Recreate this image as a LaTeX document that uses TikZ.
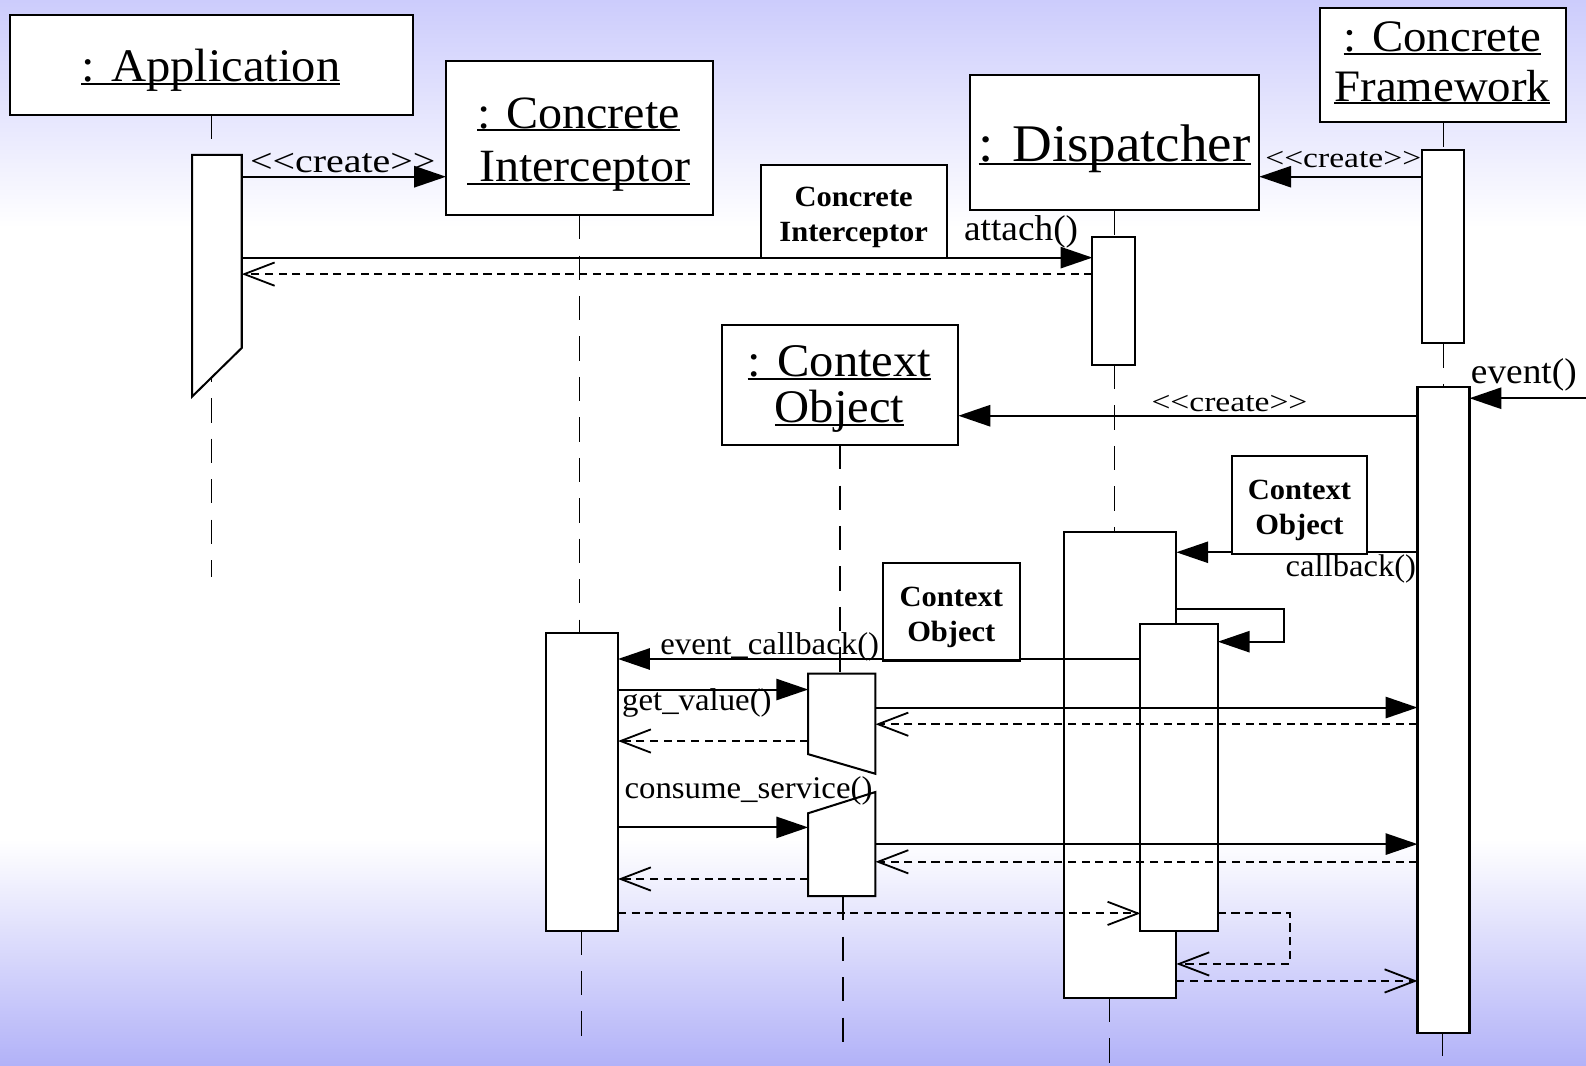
\documentclass[tikz,border=0pt]{standalone}
\usepackage{fontspec}
\setmainfont{Liberation Serif}[FakeStretch=1.04]
\usetikzlibrary{arrows.meta}

\definecolor{bgtop}{RGB}{204,204,252}
\definecolor{bgbot}{RGB}{178,178,248}

% underline drawn close to the baseline, across the descenders
\newcommand\ulin[1]{\setbox0\hbox{#1}\rlap{\rule[-0.07em]{\wd0}{0.042em}}\box0}
% stereotype brackets kept as two separate angle characters, set a little wide
\newcommand\crt{\scalebox{1.14}[1]{\textless\kern0pt\textless create\textgreater\kern0pt\textgreater}}

\tikzset{
  box/.style={draw, fill=white, line width=2pt, inner sep=0pt, outer sep=0pt, anchor=north west},
  ghost/.style={inner sep=0pt, outer sep=0pt, anchor=north west},
  lifeline/.style={line width=1.2pt, dash pattern=on 24pt off 16pt},
  solidlife/.style={line width=1.2pt},
  objtxt/.style={anchor=base, inner sep=0pt},
  lbl/.style={anchor=base, inner sep=0pt},
  boldlbl/.style={anchor=base, inner sep=0pt, font=\bfseries\fontsize{29}{32}\selectfont},
  msg/.style={line width=2pt, -{Triangle[length=31.5pt,width=21pt]}},
  ret/.style={line width=1.8pt, dash pattern=on 8pt off 5.5pt, -{Straight Barb[length=30pt,width=23pt]}},
}

\begin{document}
\begin{tikzpicture}[x=1pt,y=-1pt]
\useasboundingbox (0,0) rectangle (1568,1053);

% background
\fill[white] (0,0) rectangle (1568,1053);
\shade[top color=bgtop, bottom color=white] (0,0) rectangle (1568,225);
\shade[top color=white, bottom color=bgbot] (0,830) rectangle (1568,1053);

% object boxes
\node[box, minimum width=398.5pt, minimum height=98.9pt] (appbox) at (10,14.8) {};
\node[box, minimum width=263.5pt, minimum height=152.3pt] (cibox) at (441,60.3) {};
\node[box, minimum width=286pt, minimum height=134pt] (dispbox) at (959,74) {};
\node[box, minimum width=243pt, minimum height=112.8pt] (cfbox) at (1305,8.2) {};
\node[box, minimum width=233.5pt, minimum height=118.7pt] (ctxbox) at (714,321.3) {};

% lifeline end points
\coordinate (append) at (209,570);
\coordinate (citop) at (572.6,626);
\coordinate (cibot) at (575,920);
\coordinate (ciend) at (575,1030);
\coordinate (dispmid) at (1101.5,360.8);
\coordinate (disptop2) at (1101.5,526);
\coordinate (dispbot) at (1097,986.6);
\coordinate (dispend) at (1097,1053);
\coordinate (cfmid) at (1427,339.5);
\coordinate (cfmid2) at (1427,383);
\coordinate (cfbot) at (1426.4,1021);
\coordinate (cfend) at (1426.4,1044);
\coordinate (ctxtop) at (830.5,666);
\coordinate (ctxbot) at (833.5,886);
\coordinate (ctxend) at (833.5,1040);

% lifelines
\draw[lifeline] (appbox.south -| append) -- (append);
\draw[lifeline] (cibox.south -| citop) -- (citop);
\draw[lifeline] (cibot) -- (ciend);
\draw[lifeline] (dispbox.south -| dispmid) -- (dispmid |- 0,236);
\draw[lifeline] (dispmid) -- (disptop2);
\draw[lifeline] (dispbot) -- (dispend);
\draw[lifeline] (cfbox.south -| cfmid) -- (cfmid |- 0,150);
\draw[lifeline] (cfmid) -- (cfmid2);
\draw[solidlife] (cfbot) -- (cfend);
\draw[lifeline] (ctxbox.south -| ctxtop) -- (ctxtop);
\draw[lifeline] (ctxbot) -- (ctxend);

% activations
\node[ghost, minimum width=49pt, minimum height=239pt] (appact) at (190,153) {};
\draw[line width=2pt, fill=white] (appact.north west) -- (appact.north east)
  -- ([yshift=48pt]appact.south east) -- (appact.south west) -- cycle;
\node[box, minimum width=42pt, minimum height=126.2pt] (dispact) at (1080,234.6) {};
\node[box, minimum width=41pt, minimum height=191.5pt] (cfact) at (1406,148) {};
\node[box, minimum width=51.4pt, minimum height=638pt] (cfact2) at (1401.4,383) {};
\node[box, minimum width=71pt, minimum height=294pt] (ciact) at (540,626) {};
\node[box, minimum width=111pt, minimum height=460.6pt] (dispbig) at (1052,526) {};
\node[box, minimum width=76.5pt, minimum height=303.9pt] (dispnest) at (1127.5,616.6) {};
\node[ghost, minimum width=66.5pt, minimum height=99pt] (ctxact) at (799,666) {};
\draw[line width=2pt, fill=white] (ctxact.north west) -- (ctxact.north east)
  -- (ctxact.south east) -- ([yshift=19.4pt]ctxact.south west) -- cycle;
\node[ghost, minimum width=66.5pt, minimum height=103pt] (ctxact2) at (799,783) {};
\draw[line width=2pt, fill=white] ([yshift=-21pt]ctxact2.north west) -- (ctxact2.north east)
  -- (ctxact2.south east) -- (ctxact2.south west) -- cycle;

% message levels
\coordinate (ycreateA) at (0,174.7);
\coordinate (yattach) at (0,254.7);
\coordinate (yattachR) at (0,271);
\coordinate (yevent) at (0,393.7);
\coordinate (ycreateC) at (0,411);
\coordinate (ycallback) at (0,546);
\coordinate (yselfA) at (0,602.4);
\coordinate (yselfB) at (0,634.4);
\coordinate (yevcb) at (0,651.5);
\coordinate (ygetv) at (0,681.7);
\coordinate (ygetvF) at (0,699.5);
\coordinate (ygetvFR) at (0,716);
\coordinate (ygetvR) at (0,732.6);
\coordinate (ycons) at (0,818);
\coordinate (yconsF) at (0,834.5);
\coordinate (yconsFR) at (0,852);
\coordinate (yconsR) at (0,869);
\coordinate (yevcbR) at (0,903);
\coordinate (yselfR) at (0,953);
\coordinate (ycbR) at (0,969.8);
\coordinate (evsrc) at (1568,393.7);
\coordinate (loopA) at (1269.7,0);
\coordinate (loopR) at (1275,0);

% messages
\draw[msg] (appact.east |- ycreateA) -- (cibox.west |- ycreateA);
\draw[msg] (cfact.west |- ycreateA) -- (dispbox.east |- ycreateA);
\draw[msg] (appact.east |- yattach) -- (dispact.west |- yattach);
\draw[ret] (dispact.west |- yattachR) -- (appact.east |- yattachR);
\draw[msg] (evsrc) -- (cfact2.east |- yevent);
\draw[msg] (cfact2.west |- ycreateC) -- (ctxbox.east |- ycreateC);
\draw[msg] (cfact2.west |- ycallback) -- (dispbig.east |- ycallback);
\draw[msg] (dispbig.east |- yselfA) -- (loopA |- yselfA) -- (loopA |- yselfB) -- (dispnest.east |- yselfB);
\draw[msg] (dispnest.west |- yevcb) -- (ciact.east |- yevcb);
\draw[msg] (ciact.east |- ygetv) -- (ctxact.west |- ygetv);
\draw[msg] (ctxact.east |- ygetvF) -- (cfact2.west |- ygetvF);
\draw[ret] (cfact2.west |- ygetvFR) -- (ctxact.east |- ygetvFR);
\draw[ret] (ctxact.west |- ygetvR) -- (ciact.east |- ygetvR);
\draw[msg] (ciact.east |- ycons) -- (ctxact2.west |- ycons);
\draw[msg] (ctxact2.east |- yconsF) -- (cfact2.west |- yconsF);
\draw[ret] (cfact2.west |- yconsFR) -- (ctxact2.east |- yconsFR);
\draw[ret] (ctxact2.west |- yconsR) -- (ciact.east |- yconsR);
\draw[ret] (ciact.east |- yevcbR) -- (dispnest.west |- yevcbR);
\draw[ret] (dispnest.east |- yevcbR) -- (loopR |- yevcbR) -- (loopR |- yselfR) -- (dispbig.east |- yselfR);
\draw[ret] (dispbig.east |- ycbR) -- (cfact2.west |- ycbR);

% argument boxes on the messages
\node[box, minimum width=183.5pt, minimum height=92pt] (argci) at (752.5,163) {};
\node[box, minimum width=134pt, minimum height=96.8pt] (argctxA) at (1217.7,451) {};
\node[box, minimum width=135pt, minimum height=96.2pt] (argctxB) at (873,556.8) {};
\node[boldlbl] (targci1) at (844,204.4) {Concrete};
\node[boldlbl] (targci2) at (844,239) {Interceptor};
\node[boldlbl] (targctxA1) at (1284.7,493.6) {Context};
\node[boldlbl] (targctxA2) at (1284.7,528.2) {Object};
\node[boldlbl] (targctxB1) at (940.5,599.4) {Context};
\node[boldlbl] (targctxB2) at (940.5,634) {Object};

% object names
\node[objtxt, font=\fontsize{46.2}{50}\selectfont] (tapp) at (208.5,80.8) {\ulin{: Application}};
\node[objtxt, font=\fontsize{45.7}{50}\selectfont] (tci1) at (572,126.7) {\ulin{: Concrete}};
\node[objtxt, font=\fontsize{45.7}{50}\selectfont] (tci2) at (572,179.6) {\ulin{\ Interceptor}};
\node[objtxt, font=\fontsize{52.3}{56}\selectfont] (tdisp) at (1102,159.9) {\ulin{: Dispatcher}};
\node[objtxt, font=\fontsize{44.5}{48}\selectfont] (tcf1) at (1426,51) {\ulin{: Concrete}};
\node[objtxt, font=\fontsize{44.5}{48}\selectfont] (tcf2) at (1426,99.9) {\ulin{Framework}};
\node[objtxt, font=\fontsize{46.2}{50}\selectfont] (tctx1) at (830,372) {\ulin{: Context}};
\node[objtxt, font=\fontsize{46.2}{50}\selectfont] (tctx2) at (830,418) {\ulin{Object}};

% message labels
\node[lbl, font=\fontsize{33.3}{36}\selectfont] (lcreateA) at (338.9,171) {\crt};
\node[lbl, font=\fontsize{28}{30}\selectfont] (lcreateB) at (1328,166) {\crt};
\node[lbl, font=\fontsize{28}{30}\selectfont] (lcreateC) at (1215.5,407) {\crt};
\node[lbl, font=\fontsize{35.5}{38}\selectfont] (lattach) at (1009.5,237.5) {attach()};
\node[lbl, font=\fontsize{35.5}{38}\selectfont] (levent) at (1506.5,378.8) {event()};
\node[lbl, font=\fontsize{31}{34}\selectfont] (lcallback) at (1335.5,569.7) {callback()};
\node[lbl, font=\fontsize{31.2}{34}\selectfont] (levcb) at (761,647) {event\_callback()};
\node[lbl, font=\fontsize{31.2}{34}\selectfont] (lgetv) at (689,702) {get\_value()};
\node[lbl, font=\fontsize{31.2}{34}\selectfont] (lcons) at (740,789.5) {consume\_service()};
\end{tikzpicture}
\end{document}
